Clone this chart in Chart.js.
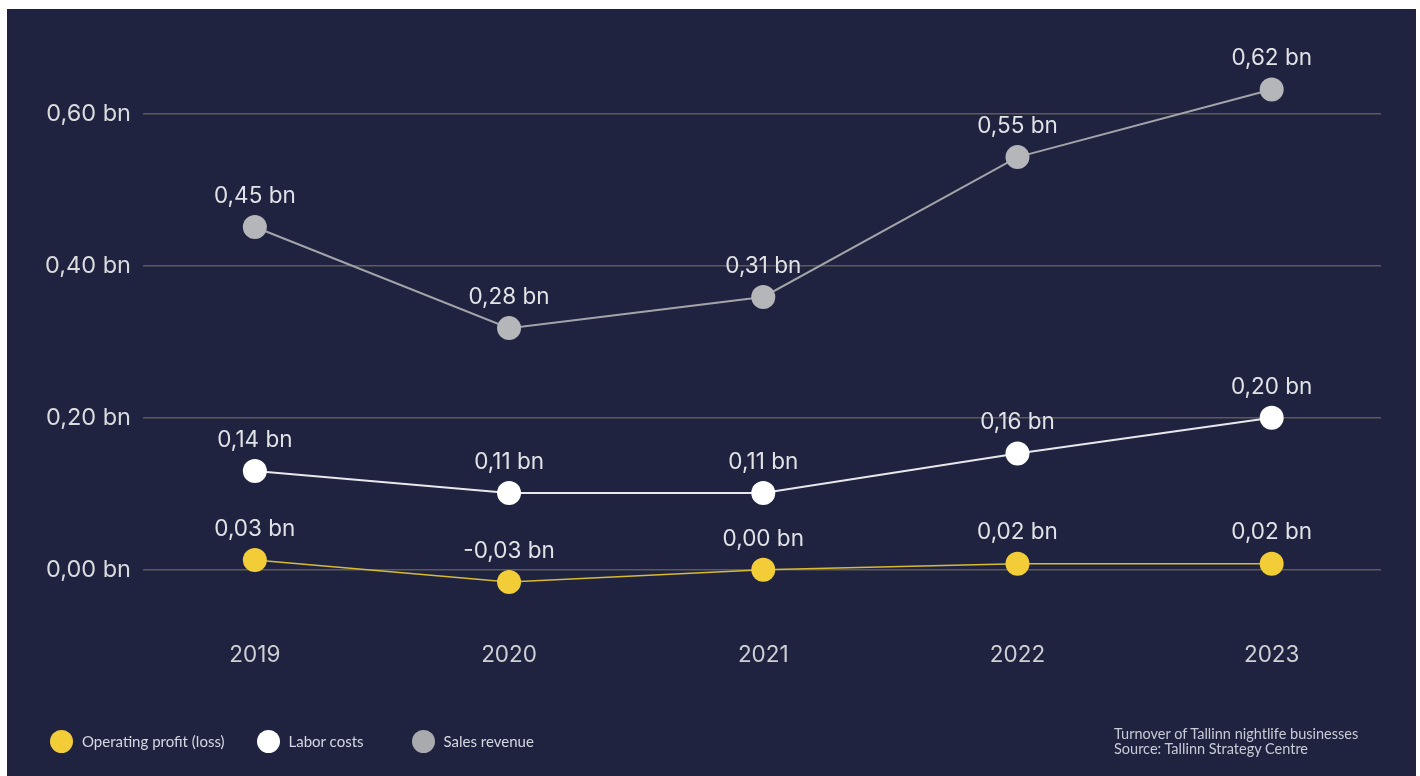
<!DOCTYPE html>
<html>
<head>
<meta charset="utf-8">
<script src="https://cdn.jsdelivr.net/npm/chart.js@4"></script>
<style>
  html, body { margin: 0; padding: 0; background: #ffffff; overflow: hidden; }
  #frame {
    position: absolute; left: 7px; top: 9px; width: 1409px; height: 767px;
    background: #1f2340;
  }
  #chart-wrap { position: absolute; left: 0; top: 0; width: 1409px; height: 767px; }
  .legend {
    position: absolute; top: 720px; left: 43px; height: 24px;
    display: flex; align-items: center;
    font-family: "Lato", "Inter", sans-serif; font-size: 15px; color: #d6d8e2;
  }
  .legend .item { display: flex; align-items: center; }
  .legend .dot { width: 23px; height: 23px; border-radius: 50%; margin-right: 9px; }
  .caption {
    position: absolute; left: 1107px; top: 717px;
    font-family: "Lato", "Inter", sans-serif; font-size: 14.5px; line-height: 15px;
    color: #c9cbd6;
  }
</style>
</head>
<body>
<div id="frame">
  <div id="chart-wrap"><canvas id="chart"></canvas></div>
  <div class="legend" id="legend"></div>
  <div class="caption">Turnover of Tallinn nightlife businesses<br>Source: Tallinn Strategy Centre</div>
</div>
<script>
// Tallinn nightlife businesses: sales, labor costs, operating profit (bn EUR)
const years = ["2019", "2020", "2021", "2022", "2023"];

// plotted positions
const salesRevenue    = [0.451, 0.318, 0.359, 0.543, 0.632];
const laborCosts      = [0.130, 0.101, 0.101, 0.153, 0.200];
const operatingProfit = [0.013, -0.016, 0.000, 0.008, 0.008];

// printed point labels (they don't always match the plotted height)
const salesLabels  = ["0,45 bn", "0,28 bn", "0,31 bn", "0,55 bn", "0,62 bn"];
const laborLabels  = ["0,14 bn", "0,11 bn", "0,11 bn", "0,16 bn", "0,20 bn"];
const profitLabels = ["0,03 bn", "-0,03 bn", "0,00 bn", "0,02 bn", "0,02 bn"];

const yTicks = [0, 0.2, 0.4, 0.6];

const AXIS_FONT = "Inter, 'Liberation Sans', Arial, sans-serif";

const series = [
  { label: "Operating profit (loss)", values: operatingProfit, texts: profitLabels,
    line: "#d8bb34", dot: "#f2cd37", legendDot: "#f2cd37", width: 1.5 },
  { label: "Labor costs", values: laborCosts, texts: laborLabels,
    line: "#e8e8ec", dot: "#ffffff", legendDot: "#ffffff", width: 2 },
  { label: "Sales revenue", values: salesRevenue, texts: salesLabels,
    line: "#a3a4a9", dot: "#b5b6ba", legendDot: "#a9aaae", width: 2 },
];

function fmtTick(v) {
  return v.toFixed(2).replace(".", ",") + " bn";
}

// draws "0,45 bn" style text above each point
const pointLabels = {
  id: "pointLabels",
  afterDatasetsDraw(chart) {
    const ctx = chart.ctx;
    ctx.save();
    ctx.font = "22.5px " + AXIS_FONT;
    ctx.fillStyle = "#e2e3e6";
    ctx.textAlign = "center";
    ctx.textBaseline = "middle";
    chart.data.datasets.forEach((ds, di) => {
      const meta = chart.getDatasetMeta(di);
      meta.data.forEach((pt, i) => {
        ctx.fillText(series[di].texts[i], pt.x, pt.y - 31);
      });
    });
    ctx.restore();
  }
};

const ctx = document.getElementById("chart").getContext("2d");
new Chart(ctx, {
  type: "line",
  data: {
    datasets: series.map(s => ({
      label: s.label,
      data: s.values.map((v, i) => ({ x: i, y: v })),
      borderColor: s.line,
      borderWidth: s.width,
      backgroundColor: s.dot,
      pointBackgroundColor: s.dot,
      pointBorderWidth: 0,
      pointRadius: 12,
      pointHoverRadius: 12,
      tension: 0,
      fill: false,
    })),
  },
  options: {
    animation: false,
    responsive: true,
    maintainAspectRatio: false,
    layout: { padding: { top: 44, right: 35, left: 0, bottom: 0 } },
    plugins: {
      legend: { display: false },
      tooltip: { enabled: false },
    },
    scales: {
      x: {
        type: "linear",
        min: -0.44,
        max: 4.43,
        grid: { display: false, drawTicks: false },
        border: { display: false },
        afterBuildTicks: (scale) => { scale.ticks = years.map((_, i) => ({ value: i })); },
        afterFit: (scale) => { scale.height = 153; },
        ticks: {
          padding: 19,
          color: "#cfd0d4",
          font: { family: AXIS_FONT, size: 22.5 },
          callback: (v) => years[v],
        },
      },
      y: {
        min: -0.07,
        max: 0.68,
        grid: { color: "#5a5c57", lineWidth: 1.5, drawTicks: false },
        border: { display: false },
        afterBuildTicks: (scale) => { scale.ticks = yTicks.map(v => ({ value: v })); },
        afterFit: (scale) => { scale.width = 136; },
        ticks: {
          padding: 12,
          color: "#dadbde",
          font: { family: AXIS_FONT, size: 23.5 },
          callback: (v) => fmtTick(v),
        },
      },
    },
  },
  plugins: [pointLabels],
});

// html legend row
const legendEl = document.getElementById("legend");
const gaps = [32, 48, 0];
series.forEach((s, i) => {
  const item = document.createElement("div");
  item.className = "item";
  item.style.marginRight = gaps[i] + "px";
  item.innerHTML = `<span class="dot" style="background:${s.legendDot}"></span>${s.label}`;
  legendEl.appendChild(item);
});
</script>
</body>
</html>
